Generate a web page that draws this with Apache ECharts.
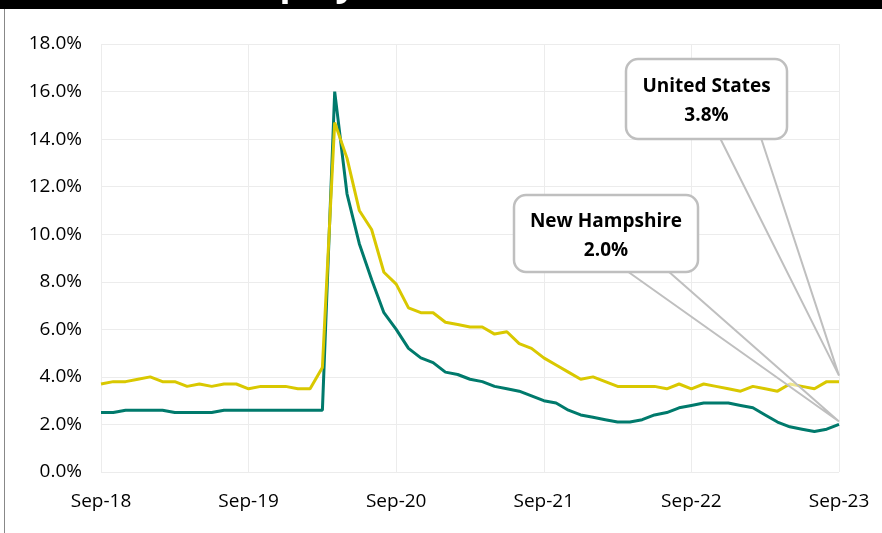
<!DOCTYPE html>
<html>
<head>
<meta charset="utf-8">
<script src="https://cdn.jsdelivr.net/npm/echarts@6/dist/echarts.min.js"></script>
<style>
html,body{margin:0;padding:0;background:#fff;}
#chart{width:882px;height:533px;}
</style>
</head>
<body>
<div id="chart"></div>
<script>
const categories = [
  "Sep-18","Oct-18","Nov-18","Dec-18","Jan-19","Feb-19","Mar-19","Apr-19","May-19","Jun-19","Jul-19","Aug-19",
  "Sep-19","Oct-19","Nov-19","Dec-19","Jan-20","Feb-20","Mar-20","Apr-20","May-20","Jun-20","Jul-20","Aug-20",
  "Sep-20","Oct-20","Nov-20","Dec-20","Jan-21","Feb-21","Mar-21","Apr-21","May-21","Jun-21","Jul-21","Aug-21",
  "Sep-21","Oct-21","Nov-21","Dec-21","Jan-22","Feb-22","Mar-22","Apr-22","May-22","Jun-22","Jul-22","Aug-22",
  "Sep-22","Oct-22","Nov-22","Dec-22","Jan-23","Feb-23","Mar-23","Apr-23","May-23","Jun-23","Jul-23","Aug-23",
  "Sep-23"
];

const newHampshire = [
  2.5,2.5,2.6,2.6,2.6,2.6,2.5,2.5,2.5,2.5,2.6,2.6,
  2.6,2.6,2.6,2.6,2.6,2.6,2.6,16.0,11.7,9.6,8.1,6.7,
  6.0,5.2,4.8,4.6,4.2,4.1,3.9,3.8,3.6,3.5,3.4,3.2,
  3.0,2.9,2.6,2.4,2.3,2.2,2.1,2.1,2.2,2.4,2.5,2.7,
  2.8,2.9,2.9,2.9,2.8,2.7,2.4,2.1,1.9,1.8,1.7,1.8,
  2.0
];

const unitedStates = [
  3.7,3.8,3.8,3.9,4.0,3.8,3.8,3.6,3.7,3.6,3.7,3.7,
  3.5,3.6,3.6,3.6,3.5,3.5,4.4,14.7,13.2,11.0,10.2,8.4,
  7.9,6.9,6.7,6.7,6.3,6.2,6.1,6.1,5.8,5.9,5.4,5.2,
  4.8,4.5,4.2,3.9,4.0,3.8,3.6,3.6,3.6,3.6,3.5,3.7,
  3.5,3.7,3.6,3.5,3.4,3.6,3.5,3.4,3.7,3.6,3.5,3.8,
  3.8
];

const yTicks = [0,2,4,6,8,10,12,14,16,18];
const seriesNames = ["New Hampshire","United States"];

const FONT = '"Open Sans", "Noto Sans", sans-serif';
const chart = echarts.init(document.getElementById('chart'), null, {renderer:'canvas'});

const option = {
  animation: false,
  backgroundColor: '#ffffff',
  grid: {left: 101, right: 43, top: 44, bottom: 61, containLabel: false},
  xAxis: {
    type: 'category',
    data: categories,
    boundaryGap: false,
    axisLine: {show: false},
    axisTick: {show: false},
    axisLabel: {interval: 11, color: '#000', fontFamily: FONT, fontSize: 19, margin: 20},
    splitLine: {show: true, interval: 11, lineStyle: {color: '#ececec', width: 1}}
  },
  yAxis: {
    type: 'value',
    min: yTicks[0],
    max: yTicks[yTicks.length-1],
    interval: 2,
    axisLine: {show: false},
    axisTick: {show: false},
    axisLabel: {color: '#000', fontFamily: FONT, fontSize: 19, margin: 19,
      formatter: v => v.toFixed(1) + '%'},
    splitLine: {show: true, lineStyle: {color: '#ececec', width: 1}}
  },
  series: [
    {name: seriesNames[0], type: 'line', data: newHampshire, showSymbol: false, symbol: 'none',
     lineStyle: {color: '#007a6c', width: 3}, itemStyle: {color: '#007a6c'}, z: 3},
    {name: seriesNames[1], type: 'line', data: unitedStates, showSymbol: false, symbol: 'none',
     lineStyle: {color: '#d9c800', width: 3}, itemStyle: {color: '#d9c800'}, z: 4}
  ],
  graphic: [
    {id: 'topbar', type: 'rect', shape: {x: 0, y: 0, width: 882, height: 9}, style: {fill: '#000'}, z: 50},
    {id: 'title', type: 'text', x: 172, y: 3, z: 51,
     style: {text: 'Unemployment Rate', font: 'bold 36px ' + FONT, fill: '#fff', verticalAlign: 'bottom', align: 'left'}},
    {id: 'leftborder', type: 'line', shape: {x1: 4.5, y1: 9, x2: 4.5, y2: 533}, style: {stroke: '#888', lineWidth: 1}, z: 50}
  ]
};
chart.setOption(option);

function callout(idp, tip, box, wedgeX1, wedgeX2, label, textDy) {
  const by = box.y + box.height;
  return [
    {id: idp + 'wedge', type: 'polygon', z: 60,
     shape: {points: [[wedgeX1, by - 1], tip, [wedgeX2, by - 1]]},
     style: {fill: 'rgba(255,255,255,0.55)', stroke: '#bfbfbf', lineWidth: 2}},
    {id: idp + 'box', type: 'rect', z: 61,
     shape: {x: box.x, y: box.y, width: box.width, height: box.height, r: 12},
     style: {fill: '#ffffff', stroke: '#bfbfbf', lineWidth: 2.5}},
    {id: idp + 'text', type: 'text', z: 62,
     x: box.x + box.width / 2, y: box.y + box.height / 2 + textDy,
     style: {text: label, font: 'bold 19px ' + FONT, lineHeight: 29, fill: '#000',
       align: 'center', verticalAlign: 'middle'}}
  ];
}

const last = categories.length - 1;
const usPt = chart.convertToPixel({gridIndex: 0}, [last, unitedStates[last]]);
const nhPt = chart.convertToPixel({gridIndex: 0}, [last, newHampshire[last]]);

chart.setOption({
  graphic: [].concat(
    callout('us', [usPt[0], usPt[1] - 6], {x: 626, y: 59, width: 161, height: 80}, 720, 761,
      seriesNames[1] + '\n' + unitedStates[last].toFixed(1) + '%', 2),
    callout('nh', [nhPt[0], nhPt[1] - 3], {x: 514, y: 195, width: 184, height: 77}, 627, 668,
      seriesNames[0] + '\n' + newHampshire[last].toFixed(1) + '%', 3)
  )
});
</script>
</body>
</html>
